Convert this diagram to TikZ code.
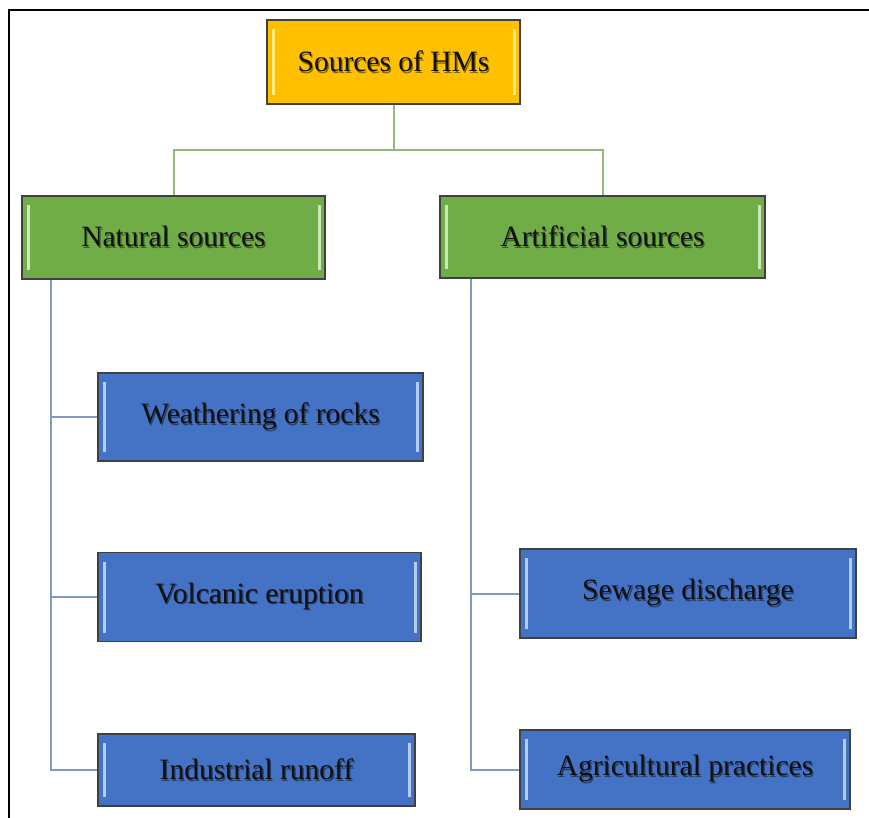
\documentclass[tikz,border=0pt]{standalone}
\usepackage{fontspec}
\setmainfont{Liberation Serif}
\definecolor{gold}{HTML}{FFC000}
\definecolor{goldlight}{HTML}{FFEC80}
\definecolor{grn}{HTML}{70AD47}
\definecolor{grnlight}{HTML}{CDE6BA}
\definecolor{blu}{HTML}{4472C4}
\definecolor{blulight}{HTML}{B4CCEE}
\definecolor{grnline}{HTML}{93BA78}
\definecolor{bluline}{HTML}{7F9AC6}
\definecolor{txt}{HTML}{101010}
\colorlet{shc}{black!50}
\newcommand{\shtxt}[1]{\leavevmode\rlap{\hspace{1.3pt}\raisebox{-1.6pt}{\textcolor{shc}{#1}}}#1}
\tikzset{
  boxbase/.style={draw=black!75, line width=1.1pt, inner sep=0pt, text=txt,
    font=\fontsize{29.5}{35}\selectfont},
  bevel/.style={path picture={
    \draw[line width=3pt, #1]
      ([xshift=6pt,yshift=-9pt]path picture bounding box.north west) --
      ([xshift=6pt,yshift=9pt]path picture bounding box.south west);
    \draw[line width=3pt, #1]
      ([xshift=-6pt,yshift=-9pt]path picture bounding box.north east) --
      ([xshift=-6pt,yshift=9pt]path picture bounding box.south east);}},
  goldbox/.style={boxbase, fill=gold, bevel=goldlight,
    execute at begin node={\colorlet{shc}{gold!55!black}}},
  grnbox/.style={boxbase, fill=grn, bevel=grnlight,
    execute at begin node={\colorlet{shc}{grn!55!black}}},
  blubox/.style={boxbase, fill=blu, bevel=blulight,
    execute at begin node={\colorlet{shc}{blu!55!black}}},
  gconn/.style={draw=grnline, line width=2pt},
  bconn/.style={draw=bluline, line width=2pt},
  frameline/.style={draw=black, line width=2pt}
}
\begin{document}
\begin{tikzpicture}[x=1pt,y=-1pt]
\useasboundingbox (0,0) rectangle (869,818);
\coordinate (fa) at (9,818);
\coordinate (fb) at (9,10);
\coordinate (fc) at (869,10);
\draw[frameline] (fa) -- (fb) -- (fc);

\coordinate (mid) at (393.5,150);

\node[goldbox, minimum width=253pt, minimum height=84pt] (top) at (393.5,62) {\shtxt{Sources of HMs}};
\node[grnbox, minimum width=303pt, minimum height=83pt] (nat) at (173.5,237.5) {\shtxt{Natural sources}};
\node[grnbox, minimum width=325pt, minimum height=82pt] (art) at (602.5,237) {\shtxt{Artificial sources}};
\node[blubox, minimum width=325pt, minimum height=88pt] (wea) at (260.5,417) {\shtxt{Weathering of rocks}};
\node[blubox, minimum width=323pt, minimum height=89pt] (vol) at (259.5,597) {\shtxt{Volcanic eruption}};
\node[blubox, minimum width=317pt, minimum height=72pt] (ind) at (256.5,770) {\shtxt{Industrial runoff}};
\node[blubox, minimum width=336pt, minimum height=89pt] (sew) at (688,593.5) {\shtxt{Sewage discharge}};
\node[blubox, minimum width=330pt, minimum height=79pt] (agr) at (685,769.5) {\shtxt{Agricultural practices}};

\draw[gconn] (top.south) -- (mid) -| (nat.north);
\draw[gconn] (mid) -| (art.north);

\coordinate (nl) at ([xshift=30pt]nat.south west);
\coordinate (al) at ([xshift=32pt]art.south west);
\draw[bconn] (nl) |- (ind.west);
\draw[bconn] (nl) |- (wea.west);
\draw[bconn] (nl) |- (vol.west);
\draw[bconn] (al) |- (agr.west);
\draw[bconn] (al) |- (sew.west);
\end{tikzpicture}
\end{document}
